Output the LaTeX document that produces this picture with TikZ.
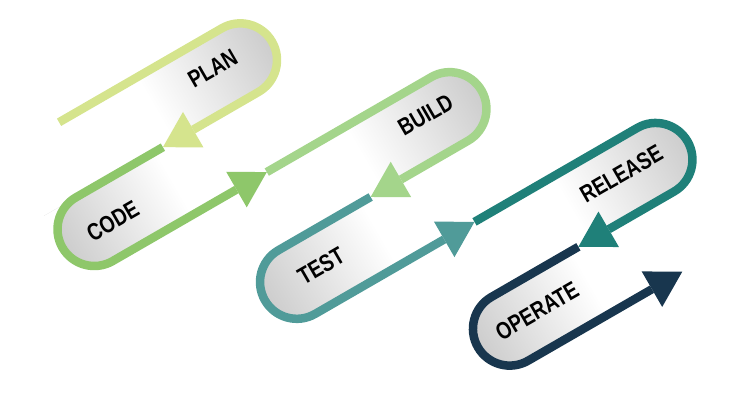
\documentclass[tikz,border=0pt]{standalone}
\usepackage{fontspec}
\usepackage{graphicx}
\setmainfont{Liberation Sans}
\usetikzlibrary{arrows.meta}
\definecolor{cplan}{HTML}{D5E48D}
\definecolor{ccode}{HTML}{8EC76A}
\definecolor{cbuild}{HTML}{A4D58B}
\definecolor{ctest}{HTML}{509B99}
\definecolor{crelease}{HTML}{1F8079}
\definecolor{coperate}{HTML}{18364E}
\pgfdeclarehorizontalshading{capsright}{100bp}{color(0bp)=(white); color(25bp)=(white); color(45bp)=(white); color(75bp)=(black!20); color(100bp)=(black!20)}
\pgfdeclarehorizontalshading{capsleft}{100bp}{color(0bp)=(black!20); color(25bp)=(black!20); color(55bp)=(white); color(75bp)=(white); color(100bp)=(white)}
\newcommand{\stagelabel}[1]{\scalebox{0.8}[1]{#1}}
\begin{document}
\begin{tikzpicture}[x=1pt,y=1pt,
  ribbon/.style={line width=8.5pt},
  tipped/.style={ribbon,-{Triangle[length=35pt,width=41pt,line width=0pt]}},
  stagetext/.style={font=\fontsize{24}{24}\selectfont\bfseries, rotate=30, inner sep=0pt, text=black},
  rfill/.style={shading=capsright, draw=none},
  lfill/.style={shading=capsleft, draw=none}]
\useasboundingbox (0,0) rectangle (750,400);
\begin{scope}[transform canvas={rotate=30}]
  % capsule fills (shading follows the tilt)
  \shade[rfill] (190,211) -- (378,211) arc[start angle=90,end angle=-90,radius=36.75] -- (190,137.5) -- cycle;
  \shade[lfill] (130.25,137.5) -- (345,137.5) -- (345,64) -- (167,64) arc[start angle=270,end angle=90,radius=36.75] -- cycle;
  \shade[rfill] (345,64) -- (535,64) arc[start angle=90,end angle=-90,radius=36.75] -- (345,-9.5) -- cycle;
  \shade[lfill] (500,-9.5) -- (316,-9.5) arc[start angle=90,end angle=270,radius=36.75] -- (500,-83) -- cycle;
  \shade[rfill] (500,-83) -- (688,-83) arc[start angle=90,end angle=-90,radius=36.75] -- (500,-156.5) -- cycle;
  \shade[lfill] (655,-156.5) -- (477,-156.5) arc[start angle=90,end angle=270,radius=36.75] -- (655,-230) -- cycle;
\end{scope}
\begin{scope}[rotate=30]
  % ribbon coordinates
  \coordinate (s0) at (190,211);
  \coordinate (ra1) at (378,211);
  \coordinate (t1) at (267.5,137.5);
  \coordinate (la1) at (167,137.5);
  \coordinate (t2) at (345,64);
  \coordinate (ra2) at (535,64);
  \coordinate (t3) at (422.5,-9.5);
  \coordinate (la2) at (316,-9.5);
  \coordinate (t4) at (500,-83);
  \coordinate (ra3) at (688,-83);
  \coordinate (t5) at (577.5,-156.5);
  \coordinate (la3) at (477,-156.5);
  \coordinate (t6) at (655,-230);
  % ribbon segments
  \draw[tipped,cplan] (s0) -- (ra1) arc[start angle=90,end angle=-90,radius=36.75] -- (t1);
  \draw[tipped,ccode] (t1) -- (la1) arc[start angle=90,end angle=270,radius=36.75] -- (t2);
  \draw[tipped,cbuild] (t2) -- (ra2) arc[start angle=90,end angle=-90,radius=36.75] -- (t3);
  \draw[tipped,ctest] (t3) -- (la2) arc[start angle=90,end angle=270,radius=36.75] -- (t4);
  \draw[tipped,crelease] (t4) -- (ra3) arc[start angle=90,end angle=-90,radius=36.75] -- (t5);
  \draw[tipped,coperate] (t5) -- (la3) arc[start angle=90,end angle=270,radius=36.75] -- (t6);
  % labels
  \node[stagetext] (plan) at (350,181) {\stagelabel{PLAN}};
  \node[stagetext] (code) at (187,98.5) {\stagelabel{CODE}};
  \node[stagetext] (build) at (511,34) {\stagelabel{BUILD}};
  \node[stagetext] (test) at (345,-44.5) {\stagelabel{TEST}};
  \node[stagetext] (release) at (651,-115) {\stagelabel{RELEASE}};
  \node[stagetext] (operate) at (509.5,-191.5) {\stagelabel{OPERATE}};
\end{scope}
\end{tikzpicture}
\end{document}
